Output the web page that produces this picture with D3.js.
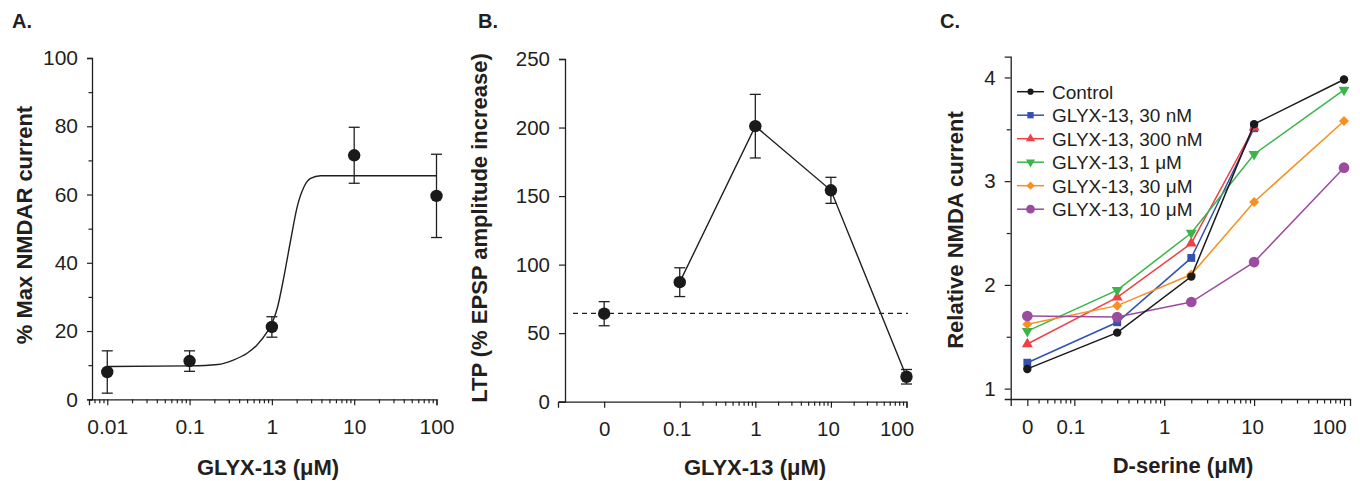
<!DOCTYPE html>
<html><head><meta charset="utf-8">
<script src="https://cdn.jsdelivr.net/npm/d3@7"></script>
<style>body{margin:0;background:#fff} svg{display:block;background:#fff}</style>
</head><body><svg id="chart" width="1360" height="481"></svg>
<script>
// ---------- Panel A data ----------
const aConc = [0.01, 0.1, 1, 10, 100];
const aMean = [8.0, 11.2, 21.2, 71.5, 59.6];
const aErr  = [6.2, 3.0, 3.0, 8.2, 12.2];
// fitted curve
const aFitConc = [0.01, 0.1, 0.22, 0.34, 0.5, 0.66, 0.88, 1, 1.16, 1.4, 1.69, 2.03, 2.45, 2.95, 3.9, 100];
const aFitVal  = [9.6, 9.8, 10.2, 11.5, 13.5, 15.9, 19.8, 22.2, 26.6, 35.9, 46.6, 56.4, 62.2, 64.7, 65.5, 65.5];
const aXTicks = [0.01, 0.1, 1, 10, 100];
const aXLabels = ["0.01", "0.1", "1", "10", "100"];
const aYTicks = [0, 20, 40, 60, 80, 100];
const aYMinor = [10, 30, 50, 70, 90];

// ---------- Panel B data ----------
const bConc = [0, 0.1, 1, 10, 100];
const bMean = [64.2, 87.2, 201, 154.2, 18.2];
const bErr  = [8.8, 10.5, 23.2, 9.5, 5.3];
const bBaseline = 64.5;
const bXTicks = [0, 0.1, 1, 10, 100];
const bXLabels = ["0", "0.1", "1", "10", "100"];
const bYTicks = [0, 50, 100, 150, 200, 250];

// ---------- Panel C data ----------
const cConc = [0, 0.3, 2, 10, 100];
const cControl = [1.19, 1.54, 2.08, 3.55, 3.98];
const c30nM    = [1.25, 1.64, 2.26, 3.51];
const c300nM   = [1.43, 1.88, 2.40, 3.52];
const c1uM     = [1.555, 1.95, 2.50, 3.26, 3.88];
const c30uM    = [1.62, 1.80, 2.10, 2.80, 3.58];
const c10uM    = [1.70, 1.69, 1.835, 2.22, 3.13];
const cNames = ["Control", "GLYX-13, 30 nM", "GLYX-13, 300 nM", "GLYX-13, 1 \u03bcM", "GLYX-13, 30 \u03bcM", "GLYX-13, 10 \u03bcM"];
const cXTicks = [0, 0.1, 1, 10, 100];
const cXLabels = ["0", "0.1", "1", "10", "100"];
const cYTicks = [1, 2, 3, 4];
const cYMinor = [1.5, 2.5, 3.5];

// ---------- styling ----------
const INK = "#231f20";
const FONT = '"Liberation Sans", Arial, Helvetica, sans-serif';
const svg = d3.select("#chart");
svg.append("rect").attr("width", 1360).attr("height", 481).attr("fill", "#fff");

function isIn(list, d) { return list.some(m => Math.abs(m - d) < 1e-9 * Math.max(1, Math.abs(m)) || (m > 0 && d > 0 && Math.abs(Math.log10(d / m)) < 1e-6)); }

function styleAxis(g, fs) {
  g.attr("color", INK).attr("font-family", FONT).attr("font-size", fs);
  g.select(".domain").attr("stroke-width", 1.3);
  g.selectAll(".tick line").attr("stroke-width", 1.2);
  g.selectAll(".tick text").attr("fill", INK);
}

function logXAxis(g, scale, majorPos, labels, minorFrom, fs, majorLen, minorLen, pad, labelShift) {
  const minors = scale.ticks().filter(d => d >= minorFrom - 1e-12 && !isIn(majorPos, d));
  const all = majorPos.concat(minors);
  const idx = d => majorPos.findIndex(m => isIn([m], d));
  const ax = d3.axisBottom(scale).tickValues(all).tickSizeOuter(0).tickSize(majorLen).tickPadding(pad)
    .tickFormat(d => { const i = idx(d); return i >= 0 ? labels[i] : ""; });
  g.call(ax);
  g.selectAll(".tick line").attr("y2", d => isIn(majorPos, d) ? majorLen : minorLen);
  if (labelShift) g.selectAll(".tick text").attr("dx", d => { const i = idx(d); return i >= 0 ? (labelShift[i] || 0) : 0; });
  styleAxis(g, fs);
}

function linYAxis(g, scale, majors, minors, fs, majorLen, minorLen, pad) {
  const ax = d3.axisLeft(scale).tickValues(majors.concat(minors)).tickSizeOuter(0).tickSize(majorLen).tickPadding(pad)
    .tickFormat(d => majors.includes(d) ? String(d) : "");
  g.call(ax);
  g.selectAll(".tick line").attr("x2", d => majors.includes(d) ? -majorLen : -minorLen);
  styleAxis(g, fs);
}

function addText(x, y, str, opts) {
  const t = svg.append("text").attr("x", x).attr("y", y).text(str)
    .attr("font-family", FONT).attr("fill", INK)
    .attr("font-size", opts.size).attr("font-weight", opts.bold ? "bold" : "normal")
    .attr("text-anchor", opts.anchor || "start");
  if (opts.rotate) t.attr("transform", `rotate(-90,${x},${y})`);
  return t;
}

function errorBars(g, xs, ys, es, xScale, yScale, cap) {
  xs.forEach((c, i) => {
    const x = xScale(c), y1 = yScale(ys[i] - es[i]), y2 = yScale(ys[i] + es[i]);
    g.append("line").attr("x1", x).attr("x2", x).attr("y1", y1).attr("y2", y2).attr("stroke", INK).attr("stroke-width", 1.3);
    [y1, y2].forEach(yy => g.append("line").attr("x1", x - cap).attr("x2", x + cap).attr("y1", yy).attr("y2", yy).attr("stroke", INK).attr("stroke-width", 1.3));
  });
}

// ================= Panel A =================
const xA = d3.scaleLog().domain([0.006, 100]).range([89, 436.5]);
const yA = d3.scaleLinear().domain([0, 100]).range([399.3, 58]);
const gA = svg.append("g");
logXAxis(gA.append("g").attr("transform", "translate(0,399.3)"), xA, aXTicks, aXLabels, 0.007, 21, 6, 4, 14);
linYAxis(gA.append("g").attr("transform", "translate(92,0)"), yA, aYTicks, aYMinor, 21, 5, 3.5, 9);
gA.append("path").datum(aFitConc.map((c, i) => [c, aFitVal[i]]))
  .attr("fill", "none").attr("stroke", INK).attr("stroke-width", 1.4)
  .attr("d", d3.line().x(d => xA(d[0])).y(d => yA(d[1])).curve(d3.curveMonotoneX));
errorBars(gA, aConc, aMean, aErr, xA, yA, 5.5);
gA.selectAll("circle.pt").data(aConc).join("circle").attr("class", "pt")
  .attr("cx", d => xA(d)).attr("cy", (d, i) => yA(aMean[i])).attr("r", 6.2).attr("fill", "#1a1a1a");
addText(12, 28, "A.", { size: 20, bold: true });
addText(32, 225, "% Max NMDAR current", { size: 22, bold: true, anchor: "middle", rotate: true });
addText(268, 475, "GLYX-13 (\u03bcM)", { size: 22, bold: true, anchor: "middle" });

// ================= Panel B =================
const bZero = 0.01;
const bPos = d => d === 0 ? bZero : d;
const xB = d3.scaleLog().domain([0.00245, 100]).range([558, 906.5]);
const yB = d3.scaleLinear().domain([0, 250]).range([401.7, 59]);
const gB = svg.append("g");
logXAxis(gB.append("g").attr("transform", "translate(0,401.7)"), xB, bXTicks.map(bPos), bXLabels, 0.2, 20.5, 6, 4, 14, [0, -3, 0, -3, -10]);
linYAxis(gB.append("g").attr("transform", "translate(565,0)"), yB, bYTicks, [], 20.5, 6, 4, 9);
gB.append("line").attr("x1", 573).attr("x2", 908).attr("y1", yB(bBaseline)).attr("y2", yB(bBaseline))
  .attr("stroke", INK).attr("stroke-width", 1.3).attr("stroke-dasharray", "5,4");
gB.append("path").datum(bConc.slice(1).map((c, i) => [c, bMean[i + 1]]))
  .attr("fill", "none").attr("stroke", INK).attr("stroke-width", 1.4)
  .attr("d", d3.line().x(d => xB(d[0])).y(d => yB(d[1])));
errorBars(gB, bConc.map(bPos), bMean, bErr, xB, yB, 5.5);
gB.selectAll("circle.pt").data(bConc).join("circle").attr("class", "pt")
  .attr("cx", d => xB(bPos(d))).attr("cy", (d, i) => yB(bMean[i])).attr("r", 6.2).attr("fill", "#1a1a1a");
addText(478, 28, "B.", { size: 20, bold: true });
addText(487, 228, "LTP (% EPSP amplitude increase)", { size: 22, bold: true, anchor: "middle", rotate: true });
addText(755, 475, "GLYX-13 (\u03bcM)", { size: 22, bold: true, anchor: "middle" });

// ================= Panel C =================
const cZero = 0.03;
const cPos = d => d === 0 ? cZero : d;
const xC = d3.scaleLog().domain([0.0196, 116.6]).range([1010.7, 1350]);
const yC = d3.scaleLinear().domain([0.9, 4.2]).range([399, 56.7]);
const gC = svg.append("g");
logXAxis(gC.append("g").attr("transform", "translate(0,399)"), xC, cXTicks.map(cPos), cXLabels, 0.04, 20.5, 7, 4.5, 13, [0, -4, 0, -2, -15]);
linYAxis(gC.append("g").attr("transform", "translate(1010.7,0)"), yC, cYTicks, cYMinor, 20.5, 6, 4, 9);

const cSeries = [
  { name: cNames[1], vals: c30nM,    color: "#3352b0", sym: d3.symbolSquare,   size: 62, rot: 0,   lsize: 40 },
  { name: cNames[2], vals: c300nM,   color: "#ef4046", sym: d3.symbolTriangle, size: 52, rot: 0,   lsize: 36 },
  { name: cNames[3], vals: c1uM,     color: "#39b54a", sym: d3.symbolTriangle, size: 52, rot: 180, lsize: 36 },
  { name: cNames[4], vals: c30uM,    color: "#f7901e", sym: d3.symbolSquare,   size: 50, rot: 45,  lsize: 34 },
  { name: cNames[5], vals: c10uM,    color: "#9b4c9f", sym: d3.symbolCircle,   size: 90, rot: 0,   lsize: 60 },
  { name: cNames[0], vals: cControl, color: "#1a1a1a", sym: d3.symbolCircle,   size: 56, rot: 0,   lsize: 30 }
];
cSeries.forEach(s => {
  const pts = s.vals.map((v, i) => [cPos(cConc[i]), v]);
  gC.append("path").datum(pts).attr("fill", "none").attr("stroke", s.color).attr("stroke-width", 1.5)
    .attr("d", d3.line().x(d => xC(d[0])).y(d => yC(d[1])));
  gC.selectAll(null).data(pts).join("path")
    .attr("d", d3.symbol(s.sym, s.size))
    .attr("transform", d => `translate(${xC(d[0])},${yC(d[1])}) rotate(${s.rot})`)
    .attr("fill", s.color);
});

// legend
const legOrder = [5, 0, 1, 2, 3, 4];
const legY0 = 91.7, legStep = 23.5;
legOrder.forEach((si, k) => {
  const s = cSeries[si];
  const y = legY0 + k * legStep;
  gC.append("line").attr("x1", 1017).attr("x2", 1044).attr("y1", y).attr("y2", y).attr("stroke", s.color).attr("stroke-width", 1.5);
  gC.append("path").attr("d", d3.symbol(s.sym, s.lsize)).attr("transform", `translate(1030.5,${y}) rotate(${s.rot})`).attr("fill", s.color);
  gC.append("text").attr("x", 1052).attr("y", y).attr("dy", "0.36em").text(s.name)
    .attr("font-family", FONT).attr("font-size", 19).attr("fill", INK);
});
addText(940, 28, "C.", { size: 20, bold: true });
addText(963, 230, "Relative NMDA current", { size: 22, bold: true, anchor: "middle", rotate: true });
addText(1183, 473, "D-serine (\u03bcM)", { size: 22, bold: true, anchor: "middle" });
</script></body></html>
